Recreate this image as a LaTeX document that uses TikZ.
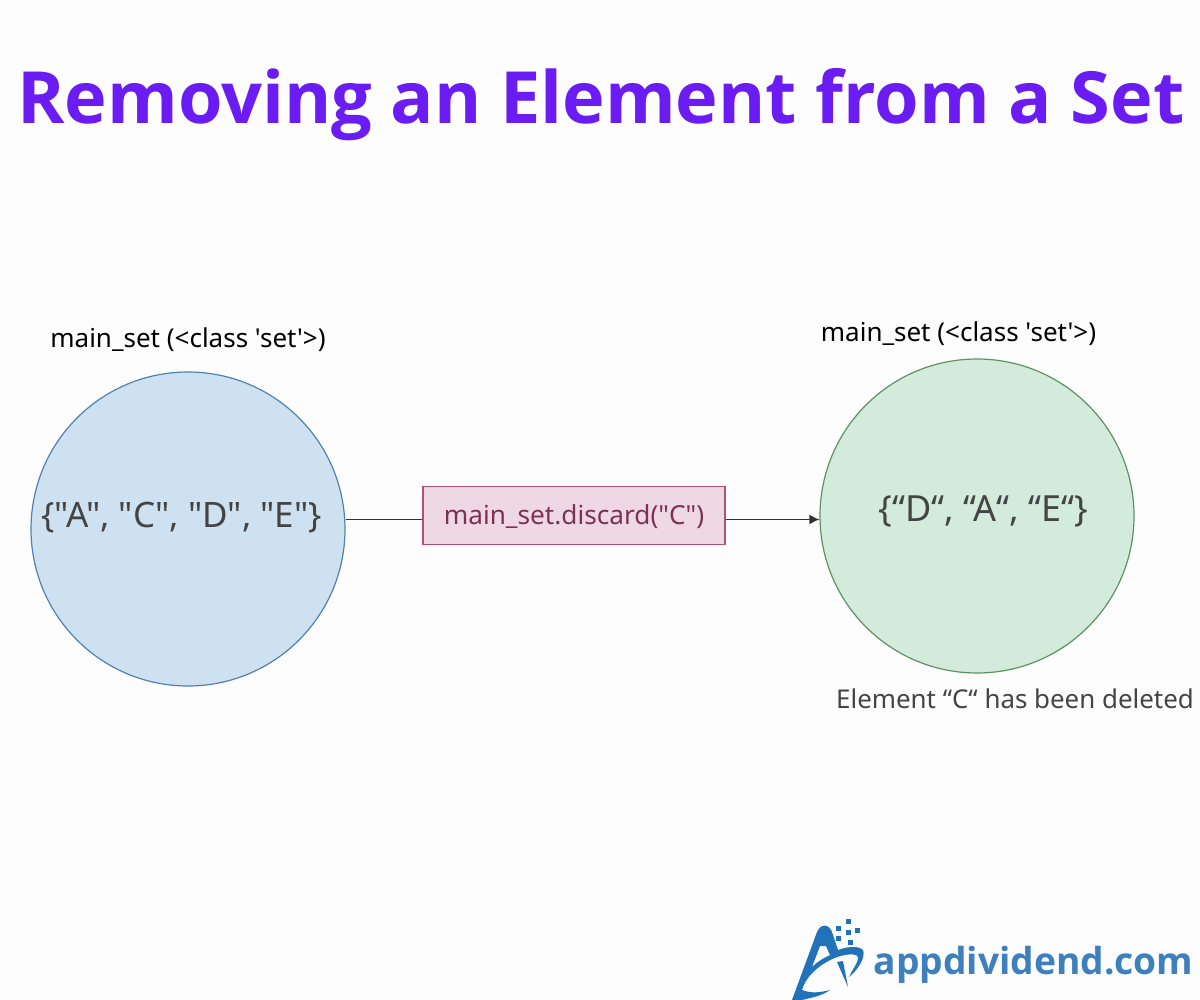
\documentclass[tikz,border=0pt]{standalone}
\usepackage{fontspec}
\newfontfamily\drawfont{Noto Sans}
\newfontfamily\headfont{Open Sans}
\usetikzlibrary{arrows.meta}
\definecolor{titlepurple}{HTML}{6A1CF3}
\definecolor{logoblue}{HTML}{2272B9}
\definecolor{logotext}{HTML}{3D80BD}
\definecolor{textgray}{HTML}{444444}
\definecolor{beforefill}{HTML}{CEE1F1}
\definecolor{beforeline}{HTML}{5082AF}
\definecolor{afterfill}{HTML}{D2EBDA}
\definecolor{afterline}{HTML}{5F9164}
\definecolor{callfill}{HTML}{EED8E4}
\definecolor{callline}{HTML}{B05078}
\definecolor{calltext}{HTML}{7D3255}
\tikzset{
    setcircle/.style={circle, minimum size=314pt, inner sep=0pt, line width=1.2pt},
    setlabel/.style={anchor=center, font=\drawfont\fontsize{26}{28}\selectfont, text=black},
    setvalues/.style={anchor=center, font=\drawfont\fontsize{35}{38}\selectfont, text=textgray},
    flowline/.style={line width=1.3pt, black!80},
}
\begin{document}
\begin{tikzpicture}[x=1pt,y=-1pt]
    \useasboundingbox (0,0) rectangle (1200,1000);
    \fill[black!0.8] (0,0) rectangle (1200,1000);

    % Titel
    \node[anchor=center, font=\headfont\bfseries\fontsize{72}{80}\selectfont, text=titlepurple] (title) at (601,105) {Removing an Element from a Set};

    % Mengen als Kreise
    \node[setcircle, fill=beforefill, draw=beforeline] (before) at (188,529) {};
    \node[setcircle, fill=afterfill, draw=afterline] (after) at (977,516) {};
    \node[setvalues] (beforeval) at (181.5,518) {\{"A", "C", "D", "E"\}};
    \node[setvalues, font=\drawfont\fontsize{36}{38}\selectfont] (afterval) at (983.5,511) {\{“D“, “A“, “E“\}};

    % Beschriftungen
    \node[setlabel] (beforelabel) at (188,339.5) {main\_set (<class 'set'>)};
    \node[setlabel] (afterlabel) at (958.5,333.5) {main\_set (<class 'set'>)};
    \node[anchor=center, font=\drawfont\fontsize{25.9}{28}\selectfont, text=textgray] (note) at (1015,699) {Element “C“ has been deleted};

    % Methodenaufruf
    \node[draw=callline, fill=callfill, line width=1.2pt, minimum width=302pt, minimum height=58pt, inner sep=0pt, text height=22pt, text depth=4pt, text=calltext, font=\drawfont\fontsize{26.2}{28}\selectfont] (call) at (574,515.5) {main\_set.discard("C")};

    % Pfeil liegt etwas unter der Kastenmitte
    \coordinate (callin) at (call.west |- 0,519.5);
    \coordinate (callout) at (call.east |- 0,519.5);
    \draw[flowline] (before.east |- callin) -- (callin);
    \draw[flowline, -{Latex[length=10pt,width=10pt]}] (callout) -- (after.west |- callout);

    % Logo
    \fill[logoblue] (792,1000) -- (817,932) .. controls (821,923) and (829,924) .. (832,932) -- (838,950) .. controls (846,947) and (858,945) .. (863,950) .. controls (866,957) and (858,970) .. (849,977) .. controls (853,968) and (862,958) .. (856,955) .. controls (840,951) and (808,968) .. (802,990) .. controls (812,994) and (822,992) .. (830,990) .. controls (822,996) and (810,998) .. (802,1000) -- cycle
        (820,946) -- (812,967) .. controls (818,961) and (824,958) .. (830,955) -- (826,946) -- cycle;
    \fill[logoblue] (837,962) -- (848,987) -- (843,961) -- cycle;
    \foreach \dotx/\doty in {848/921, 838/928, 848/932, 857/930, 838/938, 850/942} {
        \fill[logoblue] (\dotx-2.5,\doty-2.5) rectangle (\dotx+2.5,\doty+2.5);
    }
    \node[anchor=center, font=\headfont\bfseries\fontsize{37.2}{42}\selectfont, text=logotext] (logo) at (1033.5,965) {appdividend.com};
\end{tikzpicture}
\end{document}
